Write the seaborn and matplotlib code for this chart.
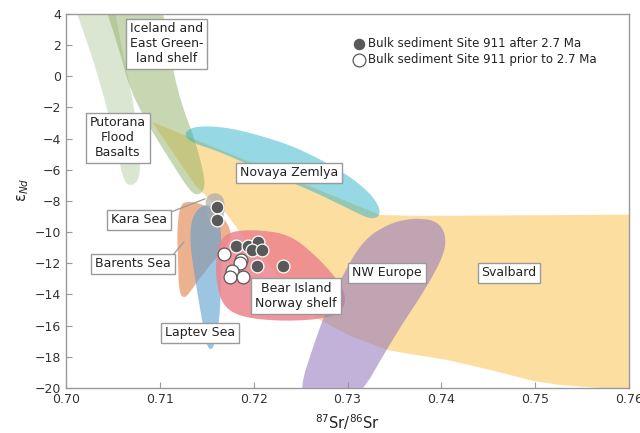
import numpy as np
import pandas as pd
import matplotlib
matplotlib.use("Agg")
import matplotlib.pyplot as plt
from matplotlib.patches import Polygon
import seaborn as sns

# ---------------- data ----------------
after_sr = [0.7161, 0.7161, 0.7181, 0.7194, 0.7205, 0.7198, 0.7209, 0.7204, 0.7231]
after_nd = [-8.40, -9.22, -10.87, -10.89, -10.65, -11.14, -11.14, -12.17, -12.17]
prior_sr = [0.7168, 0.7187, 0.7185, 0.7177, 0.7175, 0.7189]
prior_nd = [-11.42, -11.79, -12.00, -12.49, -12.90, -12.86]

svalbard_x = [0.70917, 0.73346, 0.73773, 0.7700, 0.7700, 0.7600, 0.75691, 0.75265, 0.74977, 0.74519,
              0.74061, 0.73666, 0.73421, 0.73027, 0.72707, 0.72387, 0.72067, 0.71854, 0.71695, 0.71535, 0.71375]
svalbard_y = [-2.93, -8.90, -8.96, -8.85, -22.0, -20.03, -20.0, -19.81, -19.55, -18.84,
              -18.20, -17.82, -17.56, -16.66, -15.64, -13.71, -11.46, -9.99, -8.71, -7.94, -6.97]

putorana_x = [0.70000, 0.70469, 0.70597, 0.70714, 0.70789, 0.70789, 0.70714, 0.70618, 0.70544, 0.70416, 0.70256]
putorana_y = [6.0, 6.0, 1.69, -1.52, -4.73, -6.50, -7.05, -6.85, -4.73, -1.52, 1.69]

iceland_x = [0.70330, 0.70981, 0.71108, 0.71215, 0.71375, 0.71480, 0.71470, 0.71386, 0.71300, 0.71108, 0.70895, 0.70682, 0.70554]
iceland_y = [6.0, 6.0, 1.37, -1.52, -4.08, -6.50, -7.40, -7.65, -7.20, -5.37, -3.32, -0.88, 2.01]

novaya_x = [0.71258, 0.71322, 0.71481, 0.71748, 0.72121, 0.72494, 0.72973, 0.73240, 0.73346, 0.73336, 0.73240, 0.73080, 0.72600, 0.72067, 0.71641, 0.71343]
novaya_y = [-3.76, -3.32, -3.19, -3.32, -3.89, -4.66, -6.20, -7.48, -8.45, -9.03, -9.16, -8.71, -7.29, -6.01, -4.85, -4.27]

barents_x = [0.71215, 0.71300, 0.71481, 0.71663, 0.71769, 0.71727, 0.71535, 0.71375, 0.71268, 0.71204, 0.71194, 0.71183]
barents_y = [-8.26, -8.00, -8.26, -8.90, -9.99, -10.82, -12.11, -13.39, -14.30, -13.90, -11.79, -9.86]

laptev_x = [0.71428, 0.71556, 0.71631, 0.71663, 0.71652, 0.71631, 0.71567, 0.71503, 0.71450, 0.71386, 0.71322, 0.71333]
laptev_y = [-8.32, -8.26, -8.90, -10.82, -13.71, -15.96, -17.60, -17.40, -15.64, -13.39, -10.82, -9.22]

kara_x = [0.71481, 0.71535, 0.71620, 0.71684, 0.71695, 0.71663, 0.71609, 0.71545, 0.71503]
kara_y = [-7.94, -7.55, -7.49, -7.81, -8.58, -9.35, -9.99, -9.73, -8.90]

bear_x = [0.71641, 0.71769, 0.72067, 0.72387, 0.72654, 0.72899, 0.72990, 0.72930, 0.72707, 0.72280, 0.71854, 0.71663, 0.71599, 0.71599]
bear_y = [-10.50, -9.92, -9.86, -10.18, -11.46, -13.07, -14.22, -15.20, -15.60, -15.72, -15.45, -14.67, -13.07, -11.66]

nweurope_x = [0.72419, 0.72707, 0.72920, 0.73165, 0.73453, 0.73720, 0.73954, 0.74050, 0.74029, 0.73826, 0.73506, 0.73048]
nweurope_y = [-21.4, -15.96, -13.07, -10.50, -9.41, -9.09, -9.28, -10.18, -11.46, -13.71, -16.60, -21.4]

x_ticks = [0.70, 0.71, 0.72, 0.73, 0.74, 0.75, 0.76]
x_tick_labels = ["0.70", "0.71", "0.72", "0.73", "0.74", "0.75", "0.76"]
y_ticks = [4, 2, 0, -2, -4, -6, -8, -10, -12, -14, -16, -18, -20]

legend_labels = ["Bulk sediment Site 911 after 2.7 Ma", "Bulk sediment Site 911 prior to 2.7 Ma"]

# ---------------- style ----------------
sns.set_theme(style="white")
plt.rcParams['font.family'] = ['DejaVu Sans']

fig = plt.figure(figsize=(6.4, 4.33), dpi=100)
ax = fig.add_axes([0.103, 0.104, 0.880, 0.864])


def chaikin(xs, ys, n=3):
    pts = np.column_stack([xs, ys]).astype(float)
    for _ in range(n):
        nxt = np.roll(pts, -1, axis=0)
        q = 0.75 * pts + 0.25 * nxt
        r = 0.25 * pts + 0.75 * nxt
        pts = np.empty((2 * len(q), 2))
        pts[0::2] = q
        pts[1::2] = r
    return pts


regions = [
    (svalbard_x, svalbard_y, "#fbbf45", 0.50, 0, 1),
    (putorana_x, putorana_y, "#b7cfa6", 0.50, 3, 1),
    (iceland_x, iceland_y, "#8fb064", 0.50, 3, 1),
    (novaya_x, novaya_y, "#2fb3c8", 0.50, 3, 1),
    (barents_x, barents_y, "#de7436", 0.55, 3, 2),
    (laptev_x, laptev_y, "#5b9fd0", 0.60, 3, 2),
    (kara_x, kara_y, "#a6a6a6", 0.65, 3, 2),
    (bear_x, bear_y, "#ec848c", 0.85, 3, 2),
    (nweurope_x, nweurope_y, "#9a7ebf", 0.60, 3, 3),
]
for xs, ys, col, a, n, z in regions:
    pts = chaikin(xs, ys, n)
    ax.add_patch(Polygon(pts, closed=True, facecolor=col, edgecolor="none", alpha=a, zorder=z))

df = pd.DataFrame({
    "sr": after_sr + prior_sr,
    "nd": after_nd + prior_nd,
    "group": [legend_labels[0]] * len(after_sr) + [legend_labels[1]] * len(prior_sr),
})
sns.scatterplot(data=df[df.group == legend_labels[0]], x="sr", y="nd", ax=ax,
                color="#595959", edgecolor="white", linewidth=0.9, s=85, zorder=5,
                label=legend_labels[0])
sns.scatterplot(data=df[df.group == legend_labels[1]], x="sr", y="nd", ax=ax,
                color="white", edgecolor="#595959", linewidth=0.9, s=85, zorder=5,
                label=legend_labels[1])

box = dict(boxstyle="square,pad=0.3", fc="white", ec="#9a9a9a", lw=1.0)
fs = 9
labels = [
    ("Iceland and\nEast Green-\nland shelf", 0.71076, 2.07),
    ("Putorana\nFlood\nBasalts", 0.70554, -3.96),
    ("Novaya Zemlya", 0.72377, -6.20),
    ("Kara Sea", 0.70778, -9.22),
    ("Barents Sea", 0.70714, -12.04),
    ("Bear Island\nNorway shelf", 0.72451, -14.10),
    ("Laptev Sea", 0.71428, -16.47),
    ("NW Europe", 0.73421, -12.62),
    ("Svalbard", 0.74721, -12.62),
]
for t, x, y in labels:
    ax.text(x, y, t, ha="center", va="center", fontsize=fs, color="#222222",
            bbox=box, zorder=6, linespacing=1.2)

ax.plot([0.71119, 0.71481], [-8.71, -7.87], color="#9a9a9a", lw=0.9, zorder=4)
ax.plot([0.71140, 0.71258], [-11.47, -10.63], color="#9a9a9a", lw=0.9, zorder=4)

ax.set_xlim(0.70, 0.76)
ax.set_ylim(-20, 4)
ax.set_xticks(x_ticks)
ax.set_xticklabels(x_tick_labels)
ax.set_yticks(y_ticks)
ax.tick_params(axis="both", direction="in", length=4, color="#9a9a9a", labelsize=9,
               labelcolor="#333333", left=True, bottom=True, width=0.8)
for s in ax.spines.values():
    s.set_color("#9a9a9a")
    s.set_linewidth(1.0)
    s.set_zorder(7)

ax.set_xlabel("$^{87}$Sr/$^{86}$Sr", fontsize=10.5, color="#222222", labelpad=5)
ax.set_ylabel("ε$_{Nd}$", fontsize=10.5, color="#222222")
ax.yaxis.set_label_coords(-0.062, 0.53)

leg = ax.legend(loc="upper left", bbox_to_anchor=(0.500, 0.950), frameon=False,
                fontsize=8.5, handletextpad=0.1, borderaxespad=0, labelspacing=0.25,
                handlelength=1.2, markerscale=1.0)
for txt in leg.get_texts():
    txt.set_color("#222222")

fig.savefig("out.png", dpi=100)
